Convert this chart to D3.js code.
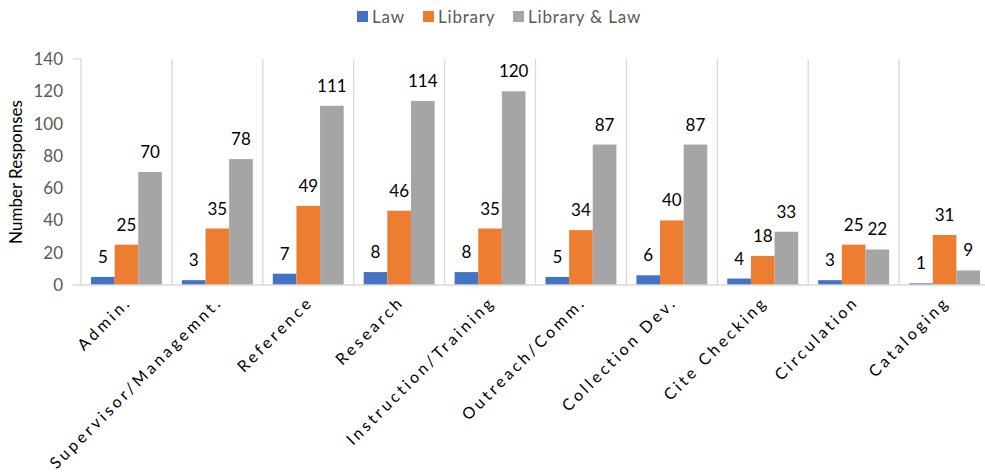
<!DOCTYPE html>
<html>
<head>
<meta charset="utf-8">
<script src="https://cdn.jsdelivr.net/npm/d3@7"></script>
<style>
  html, body { margin: 0; padding: 0; background: #fff; }
  svg { display: block; font-family: Lato, "Open Sans", sans-serif; }
</style>
</head>
<body>
<svg id="chart" width="985" height="472"></svg>
<script>
// Survey responses by job area
const categories = ["Admin.", "Supervisor/Managemnt.", "Reference", "Research", "Instruction/Training",
  "Outreach/Comm.", "Collection Dev.", "Cite Checking", "Circulation", "Cataloging"];
const seriesNames = ["Law", "Library", "Library & Law"];
const lawValues = [5, 3, 7, 8, 8, 5, 6, 4, 3, 1];
const libraryValues = [25, 35, 49, 46, 35, 34, 40, 18, 25, 31];
const bothValues = [70, 78, 111, 114, 120, 87, 87, 33, 22, 9];
const yTicks = [0, 20, 40, 60, 80, 100, 120, 140];
const colors = ["#4472C4", "#ED7D31", "#A5A5A5"];

const seriesValues = [lawValues, libraryValues, bothValues];

const svg = d3.select("#chart");
const plotLeft = 81, plotRight = 990, plotTop = 59, plotBottom = 285;

const x0 = d3.scaleBand().domain(categories).range([plotLeft, plotRight]).padding(0);
const x1 = d3.scaleBand().domain(seriesNames).range([10, x0.bandwidth() - 10]).padding(0);
const y = d3.scaleLinear().domain([0, 140]).range([plotBottom, plotTop]);

// vertical separators between categories
const grid = svg.append("g");
const edges = categories.map(c => x0(c)).concat([plotRight]);
grid.selectAll("line.sep").data(edges).join("line")
  .attr("x1", d => d).attr("x2", d => d)
  .attr("y1", y(140)).attr("y2", y(0))
  .attr("stroke", "#d9d9d9").attr("stroke-width", 1.3);
// small stub at the top of the axis
grid.append("line").attr("x1", plotLeft - 8).attr("x2", plotLeft).attr("y1", y(140)).attr("y2", y(140))
  .attr("stroke", "#d9d9d9").attr("stroke-width", 1.3);

// y axis labels
const yAxis = d3.axisLeft(y).tickValues(yTicks).tickSize(0).tickPadding(18);
const yg = svg.append("g").attr("transform", `translate(${plotLeft},0)`).call(yAxis);
yg.select(".domain").remove();
yg.selectAll("text").attr("fill", "#595959").style("font-size", "17px")
  .style("font-family", "Lato, sans-serif");

// bars
const groups = svg.append("g").selectAll("g").data(categories).join("g")
  .attr("transform", c => `translate(${x0(c)},0)`);
groups.selectAll("rect")
  .data((c, i) => seriesNames.map((s, j) => ({ s, j, v: seriesValues[j][i] })))
  .join("rect")
  .attr("x", d => x1(d.s))
  .attr("width", x1.bandwidth())
  .attr("y", d => y(d.v))
  .attr("height", d => y(0) - y(d.v))
  .attr("fill", d => colors[d.j]);

// value labels
groups.selectAll("text")
  .data((c, i) => seriesNames.map((s, j) => ({ s, j, v: seriesValues[j][i] })))
  .join("text")
  .attr("x", d => x1(d.s) + x1.bandwidth() / 2)
  .attr("y", d => y(d.v) - 14)
  .attr("text-anchor", "middle")
  .style("font-size", "17px")
  .attr("fill", "#000")
  .text(d => d.v);

// x axis line
svg.append("line").attr("x1", plotLeft - 8).attr("x2", plotRight).attr("y1", y(0)).attr("y2", y(0))
  .attr("stroke", "#d9d9d9").attr("stroke-width", 1.5);

// rotated category labels
svg.append("g").selectAll("text").data(categories).join("text")
  .attr("transform", c => `translate(${x0(c) + x0.bandwidth() / 2 + 6},${y(0) + 18}) rotate(-45)`)
  .attr("text-anchor", "end")
  .style("font-size", "16px")
  .style("letter-spacing", "3.2px")
  .attr("fill", "#000")
  .text(c => c);

// y axis title
svg.append("text")
  .attr("transform", `translate(22,${(plotTop + plotBottom) / 2}) rotate(-90)`)
  .attr("text-anchor", "middle")
  .style("font-size", "17px")
  .attr("fill", "#000")
  .text("Number Responses");

// legend
const legendX = [357, 423, 513];
const legend = svg.append("g").selectAll("g").data(seriesNames).join("g")
  .attr("transform", (d, i) => `translate(${legendX[i]},11)`);
legend.append("rect").attr("width", 11).attr("height", 11).attr("fill", (d, i) => colors[i]);
legend.append("text").attr("x", 15).attr("y", 11.5)
  .style("font-size", "17px").style("letter-spacing", "0.8px")
  .attr("fill", "#595959").text(d => d);
</script>
</body>
</html>
